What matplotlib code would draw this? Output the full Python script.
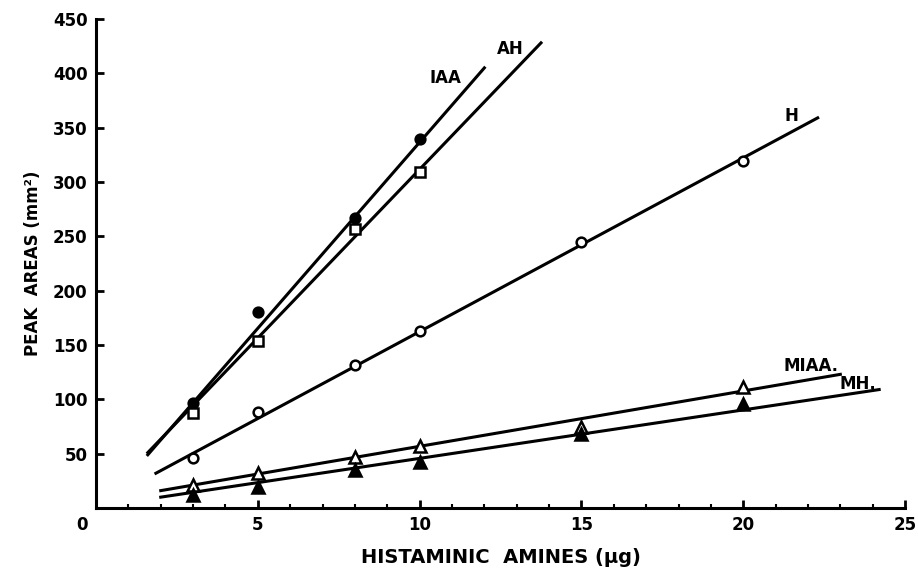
import numpy as np
import matplotlib
matplotlib.use('Agg')
import matplotlib.pyplot as plt
import matplotlib.transforms as mtransforms

plt.rcParams['font.family'] = ['DejaVu Sans']
plt.rcParams['font.weight'] = 'bold'

### data: histaminic amines, peak area vs amount ###
dose = [3, 5, 8, 10, 15, 20]

iaa_x = [3, 5, 8, 10]
iaa_y = [97, 180, 267, 340]
ah_x = [3, 5, 8, 10]
ah_y = [87, 154, 257, 309]
h_y = [46, 88, 132, 163, 245, 319]
miaa_y = [21, 32, 47, 57, 75, 111]
mh_y = [12, 19, 35, 42, 68, 96]

# fitted calibration lines (start / end)
iaa_fit_x = [1.6, 12.0]
iaa_fit_y = [49, 405]
ah_fit_x = [1.6, 13.75]
ah_fit_y = [51, 428]
h_fit_x = [1.85, 22.3]
h_fit_y = [32, 359]
miaa_fit_x = [2.0, 23.0]
miaa_fit_y = [16, 123]
mh_fit_x = [2.0, 24.2]
mh_fit_y = [10, 109]

x_ticks = [0, 5, 10, 15, 20, 25]
y_ticks = [50, 100, 150, 200, 250, 300, 350, 400, 450]

### plot ###
fig = plt.figure(figsize=(9.18, 5.68), dpi=100)
ax = fig.add_axes([0.1046, 0.1056, 0.8813, 0.861])

lw = 2.2
ax.plot(iaa_fit_x, iaa_fit_y, 'k-', lw=lw)
ax.plot(ah_fit_x, ah_fit_y, 'k-', lw=lw)
ax.plot(h_fit_x, h_fit_y, 'k-', lw=lw)
ax.plot(miaa_fit_x, miaa_fit_y, 'k-', lw=lw)
ax.plot(mh_fit_x, mh_fit_y, 'k-', lw=lw)

ms = 7
mew = 1.8
ax.plot(iaa_x, iaa_y, 'o', ms=ms, mfc='k', mec='k', mew=mew, zorder=3)
ax.plot(ah_x, ah_y, 's', ms=ms - 0.5, mfc='w', mec='k', mew=mew, zorder=3)
ax.plot(dose, h_y, 'o', ms=ms, mfc='w', mec='k', mew=mew, zorder=3)
ax.plot(dose, miaa_y, '^', ms=ms + 1, mfc='w', mec='k', mew=mew, zorder=3)
ax.plot(dose, mh_y, '^', ms=ms + 1, mfc='k', mec='k', mew=mew, zorder=3)

fs_lab = 12
ax.text(10.8, 396, 'IAA', fontsize=fs_lab, fontweight='bold', ha='center', va='center')
ax.text(12.8, 422, 'AH', fontsize=fs_lab, fontweight='bold', ha='center', va='center')
ax.text(21.5, 361, 'H', fontsize=fs_lab, fontweight='bold', ha='center', va='center')
ax.text(22.1, 131, 'MIAA.', fontsize=fs_lab, fontweight='bold', ha='center', va='center')
ax.text(23.55, 114, 'MH.', fontsize=fs_lab, fontweight='bold', ha='center', va='center')

ax.set_xlim(0, 25)
ax.set_ylim(0, 450)
ax.spines['top'].set_visible(False)
ax.spines['right'].set_visible(False)
ax.spines['left'].set_linewidth(2.2)
ax.spines['bottom'].set_linewidth(2.2)

ax.set_xticks(x_ticks)
ax.set_xticks(np.arange(0, 26, 1), minor=True)
ax.set_yticks(y_ticks)
ax.tick_params(axis='both', which='major', direction='in', length=6, width=2, labelsize=12, pad=6)
ax.tick_params(axis='x', which='minor', direction='in', length=3, width=1.5)
ax.tick_params(axis='y', which='minor', left=False)

for lab in ax.get_xticklabels() + ax.get_yticklabels():
    lab.set_fontweight('bold')
# the "0" sits left of the origin
offset = mtransforms.ScaledTranslation(-14 / 100, 0, fig.dpi_scale_trans)
ax.get_xticklabels()[0].set_transform(ax.get_xticklabels()[0].get_transform() + offset)

ax.set_xlabel('HISTAMINIC  AMINES (\u03bcg)', fontsize=14, fontweight='bold', labelpad=10)
ax.set_ylabel('PEAK  AREAS (mm\u00b2)', fontsize=12, fontweight='bold', labelpad=8)

fig.savefig('out.png', dpi=100)
